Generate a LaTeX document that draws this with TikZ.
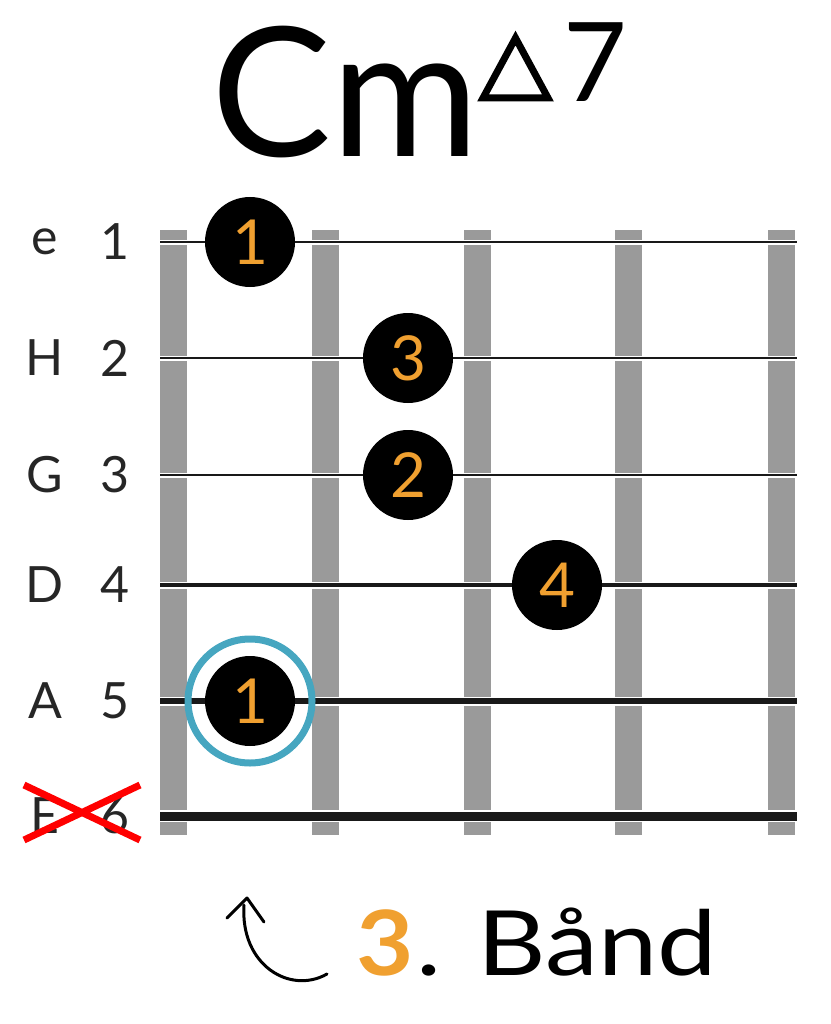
\documentclass[tikz,border=0pt]{standalone}
\usepackage{fontspec}
\setmainfont{Lato}
\definecolor{org}{HTML}{F0A030}
\definecolor{ring}{HTML}{46A6C0}
\definecolor{fret}{HTML}{9A9A9A}
\begin{document}
\begin{tikzpicture}[x=1pt,y=-1pt,
  lbl/.style={font=\fontsize{50}{50}\selectfont,text=black!85},
  dot/.style={circle,fill=black,minimum size=90pt,inner sep=0pt,text=org,font=\fontsize{62}{62}\selectfont}]
\useasboundingbox (0,0) rectangle (830,1024);
% frets
\foreach \x in {173,325,477,628,781}
  \fill[fret] (\x-13.5,230) rectangle (\x+13.5,835);
% strings
\foreach \y/\w in {242/2,358/2,475/2,585/4,701/6,816/9}{
  \draw[white,line width=\w pt+3pt] (160,\y) -- (797,\y);
  \draw[black!90,line width=\w pt] (160,\y) -- (797,\y);}
% labels
\foreach \s/\n/\y in {e/1/242,H/2/358,G/3/475,D/4/585,A/5/701,E/6/816}{
  \node[lbl] (s\n) at (45,\y) {\s};
  \node[lbl] (n\n) at (115,\y) {\n};}
\draw[red,line width=7pt] (24,785) -- (140,840) (24,840) -- (140,785);
% dots
\node[dot] (d1) at (250,242) {1};
\node[dot] (d3) at (408,358) {3};
\node[dot] (d2) at (408,475) {2};
\node[dot] (d4) at (557,585) {4};
\node[dot] (d5) at (250,701) {1};
\draw[ring,line width=7pt] (d5.center) circle (62);
% title
\node[font=\fontsize{180}{180}\selectfont,anchor=base] (title) at (345,157) {Cm};
\draw[line width=7pt,line join=miter] (483,98) -- (548,98) -- (515.5,38) -- cycle;
\node[font=\fontsize{110}{110}\selectfont,anchor=base] (sev) at (595,102) {7};
% bottom
\coordinate (a0) at (327,974);
\coordinate (a1) at (244,905);
\draw[line width=3pt,line cap=round] (a0) .. controls (290,995) and (240,965) .. (a1);
\draw[line width=3pt,line cap=round,line join=round] (227,918) -- (247,898) -- (264,922);
\node[font=\bfseries\fontsize{90}{90}\selectfont,text=org,anchor=base,xscale=1.1] (three) at (385,975) {3};
\node[font=\fontsize{90}{90}\selectfont,anchor=base west,xscale=1.18] (band) at (412,975) {. Bånd};
\end{tikzpicture}
\end{document}
